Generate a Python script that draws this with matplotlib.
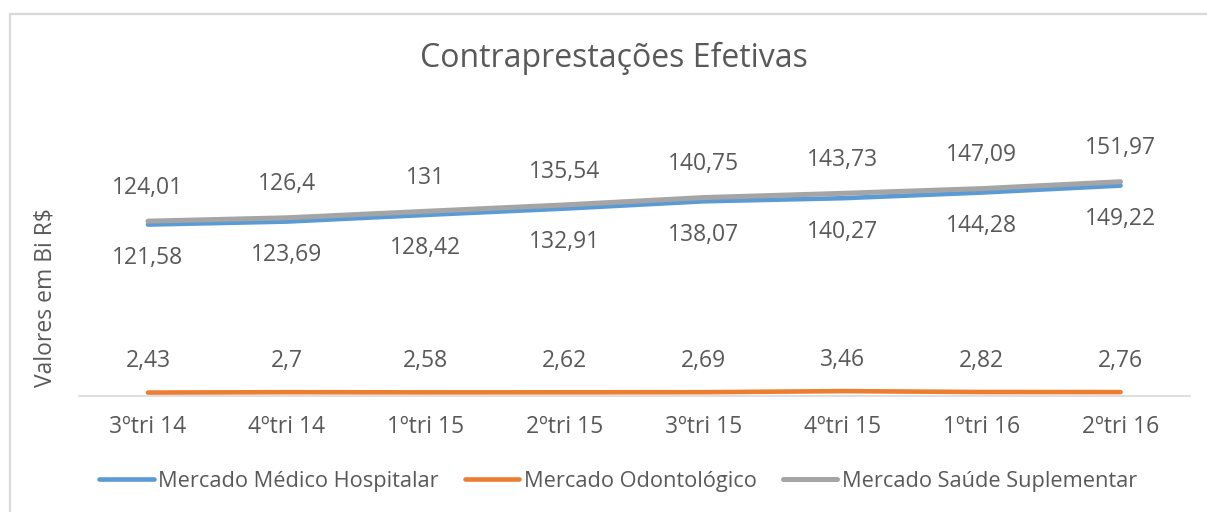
import matplotlib
matplotlib.use("Agg")
import matplotlib.pyplot as plt
from matplotlib.patches import Rectangle

categories = ["3ºtri 14", "4ºtri 14", "1ºtri 15", "2ºtri 15",
              "3ºtri 15", "4ºtri 15", "1ºtri 16", "2ºtri 16"]
medico = [121.58, 123.69, 128.42, 132.91, 138.07, 140.27, 144.28, 149.22]
odonto = [2.43, 2.70, 2.58, 2.62, 2.69, 3.46, 2.82, 2.76]
saude = [124.01, 126.40, 131.00, 135.54, 140.75, 143.73, 147.09, 151.97]
series_names = ["Mercado Médico Hospitalar", "Mercado Odontológico",
                "Mercado Saúde Suplementar"]

plt.rcParams['font.family'] = ['Open Sans', 'DejaVu Sans']
TXT = "#595959"

W, H = 1207, 512
fig = plt.figure(figsize=(W / 100, H / 100), dpi=100)
fig.patch.set_facecolor("white")

# chart border
fig.patches.append(Rectangle((9.5 / W, -0.2), 1.5, 1 - 13.5 / H + 0.2,
                             transform=fig.transFigure, fill=False,
                             edgecolor="#d9d9d9", linewidth=1.6))

left, right = 78.5, 1190
y0, ytop = 396, 114
ax = fig.add_axes([left / W, (H - y0) / H, (right - left) / W, (y0 - ytop) / H])
ax.set_facecolor("none")

x = list(range(len(categories)))
ax.plot(x, medico, color="#5b9bd5", lw=3.3, solid_capstyle="round", label=series_names[0], zorder=3)
ax.plot(x, odonto, color="#ed7d31", lw=3.3, solid_capstyle="round", label=series_names[1], zorder=3)
ax.plot(x, saude, color="#a5a5a5", lw=3.6, solid_capstyle="round", label=series_names[2], zorder=4)

ax.set_xlim(-0.5, len(categories) - 0.5)
ax.set_ylim(0, 200)

def fmt(v):
    s = f"{v:.2f}".rstrip("0").rstrip(".")
    return s.replace(".", ",")

fs = 16.5
for xi, v in zip(x, saude):
    ax.annotate(fmt(v), (xi, v), xytext=(0, 24), textcoords="offset points",
                ha="center", va="center", fontsize=fs, color=TXT)
for xi, v in zip(x, medico):
    ax.annotate(fmt(v), (xi, v), xytext=(0, -24), textcoords="offset points",
                ha="center", va="center", fontsize=fs, color=TXT)
for xi, v in zip(x, odonto):
    ax.annotate(fmt(v), (xi, v), xytext=(0, 22.5), textcoords="offset points",
                ha="center", va="center", fontsize=fs, color=TXT)

ax.set_xticks(x)
ax.set_xticklabels(categories, fontsize=fs, color=TXT)
ax.tick_params(axis="x", length=0, pad=14)
ax.set_yticks([])
for s in ["top", "right", "left"]:
    ax.spines[s].set_visible(False)
ax.spines["bottom"].set_color("#d9d9d9")
ax.spines["bottom"].set_linewidth(1.2)

fig.text(614 / W, 1 - 58 / H, "Contraprestações Efetivas", ha="center", va="center",
         fontsize=23, color=TXT)
fig.text(46 / W, 1 - 298 / H, "Valores em Bi R$", rotation=90, ha="center", va="center",
         fontsize=fs, color=TXT)

leg = fig.legend(loc="center", bbox_to_anchor=(618 / W, 1 - 481 / H), ncol=3,
                 frameon=False, fontsize=15.7, handlelength=2.5, handletextpad=0.2,
                 columnspacing=1.2, labelcolor=TXT)

fig.savefig("out.png", dpi=100)
